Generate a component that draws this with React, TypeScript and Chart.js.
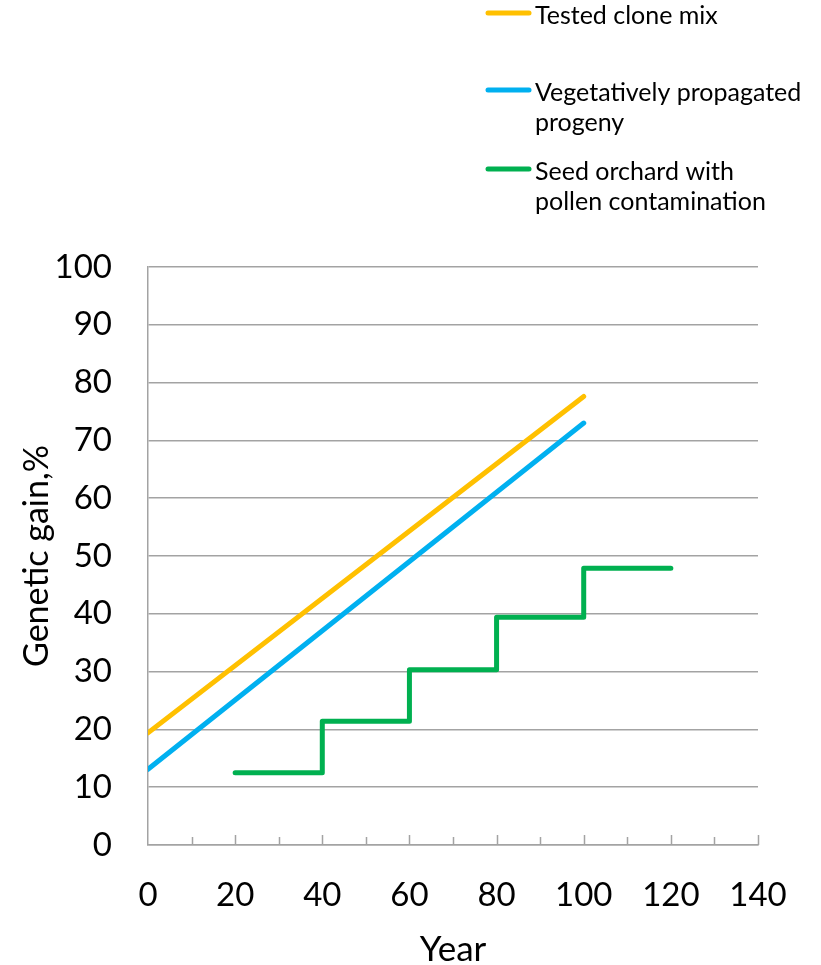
import React, { useEffect, useRef } from "react";
import { Chart, registerables } from "chart.js";

Chart.register(...registerables);

// ---- data ----
const LINE_YEARS = [0, 100];
const TESTED_CLONE_MIX = [19.4, 77.6];
const VEGETATIVE_PROGENY = [13.1, 73.0];
const SEED_ORCHARD_YEARS = [20, 40, 60, 80, 100, 120];
const SEED_ORCHARD_GAIN = [12.5, 21.4, 30.3, 39.4, 47.9, 47.9];

const SERIES_LABELS: string[][] = [
  ["Tested clone mix"],
  ["Vegetatively propagated", "progeny"],
  ["Seed orchard with", "pollen contamination"],
];
const SERIES_COLORS = ["#FFC000", "#00B0F0", "#00B050"];

const X_TITLE = "Year";
const Y_TITLE = "Genetic gain,%";
const X_MIN = 0;
const X_MAX = 140;
const X_LABEL_STEP = 20;
const X_MINOR_STEP = 10;
const Y_MIN = 0;
const Y_MAX = 100;
const Y_STEP = 10;

const FONT = "Lato";
const GRID_COLOR = "#a3a3a3";

const toPoints = (xs: number[], ys: number[]) => xs.map((x, i) => ({ x, y: ys[i] }));

// inward tick marks on the x axis
const innerTicksPlugin = {
  id: "innerTicks",
  beforeDatasetsDraw(chart: any) {
    const { ctx } = chart;
    const xs = chart.scales.x;
    const base = chart.chartArea.bottom;
    ctx.save();
    ctx.strokeStyle = GRID_COLOR;
    ctx.lineWidth = 1.5;
    for (let v = X_MIN; v <= X_MAX; v += X_MINOR_STEP) {
      if (v === X_MIN) continue;
      const px = Math.round(xs.getPixelForValue(v)) + 0.5;
      const len = v % X_LABEL_STEP === 0 ? 10 : 8;
      ctx.beginPath();
      ctx.moveTo(px, base);
      ctx.lineTo(px, base - len);
      ctx.stroke();
    }
    ctx.restore();
  },
};

// side legend with wrapped labels
const sideLegendPlugin = {
  id: "sideLegend",
  afterDraw(chart: any) {
    const { ctx } = chart;
    const lineYs = [13, 90, 169];
    ctx.save();
    ctx.font = `25px ${FONT}`;
    ctx.textAlign = "left";
    ctx.textBaseline = "alphabetic";
    chart.data.datasets.forEach((ds: any, i: number) => {
      const ly = lineYs[i];
      ctx.strokeStyle = ds.borderColor;
      ctx.lineWidth = 5;
      ctx.lineCap = "round";
      ctx.beginPath();
      ctx.moveTo(488, ly);
      ctx.lineTo(529, ly);
      ctx.stroke();
      ctx.fillStyle = "#000";
      SERIES_LABELS[i].forEach((t, j) => {
        ctx.fillText(t, 535, ly + 11 + j * 30);
      });
    });
    ctx.restore();
  },
};

export default function App() {
  const canvasRef = useRef<HTMLCanvasElement | null>(null);

  useEffect(() => {
    if (!canvasRef.current) return;
    Chart.defaults.font.family = FONT;
    const chart = new Chart(canvasRef.current, {
      type: "line",
      data: {
        datasets: [
          {
            label: SERIES_LABELS[0].join(" "),
            data: toPoints(LINE_YEARS, TESTED_CLONE_MIX),
            borderColor: SERIES_COLORS[0],
            backgroundColor: SERIES_COLORS[0],
            borderWidth: 5,
            pointRadius: 0,
            borderCapStyle: "round",
          },
          {
            label: SERIES_LABELS[1].join(" "),
            data: toPoints(LINE_YEARS, VEGETATIVE_PROGENY),
            borderColor: SERIES_COLORS[1],
            backgroundColor: SERIES_COLORS[1],
            borderWidth: 5,
            pointRadius: 0,
            borderCapStyle: "round",
          },
          {
            label: SERIES_LABELS[2].join(" "),
            data: toPoints(SEED_ORCHARD_YEARS, SEED_ORCHARD_GAIN),
            borderColor: SERIES_COLORS[2],
            backgroundColor: SERIES_COLORS[2],
            borderWidth: 5,
            pointRadius: 0,
            stepped: "before",
            borderCapStyle: "round",
            borderJoinStyle: "round",
          },
        ],
      },
      options: {
        responsive: false,
        animation: false,
        layout: { padding: { top: 267, right: 63, bottom: 0, left: 0 } },
        plugins: {
          legend: { display: false },
          tooltip: { enabled: false },
        },
        scales: {
          x: {
            type: "linear",
            min: X_MIN,
            max: X_MAX,
            afterFit: (s: any) => {
              s.height = 120;
            },
            ticks: {
              stepSize: X_LABEL_STEP,
              color: "#000",
              font: { size: 33, family: FONT },
              padding: 31,
              maxRotation: 0,
            },
            grid: { display: false, drawTicks: false },
            border: { display: true, color: GRID_COLOR, width: 1.5 },
            title: {
              display: true,
              text: X_TITLE,
              color: "#000",
              font: { size: 35, family: FONT, lineHeight: 0.9 },
              padding: { top: 0, bottom: 0 },
            },
          },
          y: {
            type: "linear",
            min: Y_MIN,
            max: Y_MAX,
            afterFit: (s: any) => {
              s.width = 148;
            },
            ticks: {
              stepSize: Y_STEP,
              color: "#000",
              font: { size: 33, family: FONT },
              padding: 36,
            },
            grid: { display: true, drawTicks: false, color: GRID_COLOR, lineWidth: 1.5 },
            border: { display: true, color: GRID_COLOR, width: 1.5 },
            title: {
              display: true,
              text: Y_TITLE,
              color: "#000",
              font: { size: 34, family: FONT },
              padding: { top: 17, bottom: 0 },
            },
          },
        },
      },
      plugins: [innerTicksPlugin, sideLegendPlugin],
    } as any);
    return () => chart.destroy();
  }, []);

  return (
    <div style={{ position: "absolute", left: 0, top: 0, width: 821, height: 965, background: "#fff" }}>
      <canvas ref={canvasRef} width={821} height={965} />
    </div>
  );
}
